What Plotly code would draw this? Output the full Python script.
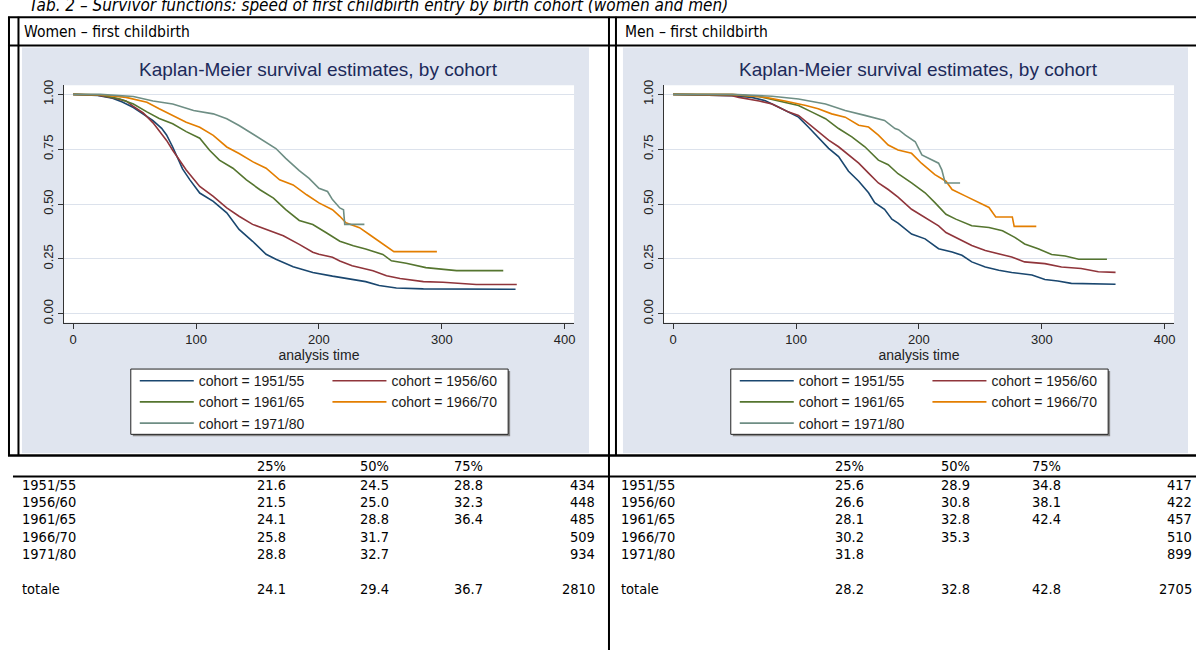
import plotly.graph_objects as go

W, H = 1198, 652

# ---------------- data ----------------
cohorts = ["1951/55", "1956/60", "1961/65", "1966/70", "1971/80"]
colors = ["#1A476F", "#90353B", "#55752F", "#E37E00", "#6E8E84"]

# Women – Kaplan-Meier survival (analysis time, survival)
w_t_5155 = [0, 20, 32, 40, 49, 57, 65, 72, 76, 81, 89, 95, 103, 114, 125, 135, 146, 157, 165, 179, 195, 211, 225, 238, 249, 263, 285, 360]
w_s_5155 = [1.0, 0.995, 0.982, 0.965, 0.94, 0.91, 0.88, 0.845, 0.815, 0.76, 0.66, 0.61, 0.55, 0.512, 0.46, 0.384, 0.33, 0.271, 0.248, 0.214, 0.188, 0.171, 0.157, 0.146, 0.128, 0.117, 0.113, 0.111]
w_t_5660 = [0, 20, 32, 43, 49, 57, 65, 76, 81, 92, 103, 114, 125, 135, 146, 157, 171, 184, 195, 200, 211, 217, 227, 233, 244, 255, 266, 285, 301, 328, 361]
w_s_5660 = [1.0, 0.996, 0.985, 0.97, 0.945, 0.915, 0.87, 0.79, 0.745, 0.655, 0.58, 0.535, 0.482, 0.444, 0.407, 0.384, 0.355, 0.316, 0.28, 0.271, 0.257, 0.24, 0.218, 0.21, 0.196, 0.173, 0.16, 0.146, 0.143, 0.133, 0.133]
w_t_6165 = [0, 22, 38, 49, 60, 70, 81, 92, 103, 111, 119, 130, 141, 152, 163, 173, 184, 195, 206, 217, 228, 238, 252, 259, 271, 287, 312, 350]
w_s_6165 = [1.0, 0.997, 0.979, 0.956, 0.92, 0.89, 0.866, 0.83, 0.80, 0.745, 0.70, 0.663, 0.61, 0.565, 0.527, 0.474, 0.425, 0.406, 0.369, 0.33, 0.31, 0.295, 0.27, 0.241, 0.23, 0.21, 0.196, 0.196]
w_t_6670 = [0, 22, 43, 60, 70, 81, 92, 103, 114, 125, 135, 146, 157, 168, 179, 190, 200, 211, 217, 222, 233, 241, 249, 255, 261, 296]
w_s_6670 = [1.0, 0.998, 0.986, 0.964, 0.934, 0.904, 0.873, 0.85, 0.813, 0.76, 0.73, 0.693, 0.663, 0.61, 0.587, 0.542, 0.505, 0.474, 0.444, 0.414, 0.392, 0.361, 0.331, 0.309, 0.283, 0.283]
w_t_7180 = [0, 22, 49, 65, 81, 98, 114, 125, 135, 146, 157, 165, 173, 184, 192, 200, 207, 211, 217, 220, 221, 237]
w_s_7180 = [1.0, 1.0, 0.99, 0.97, 0.956, 0.926, 0.911, 0.889, 0.858, 0.82, 0.783, 0.753, 0.708, 0.652, 0.617, 0.572, 0.557, 0.52, 0.482, 0.474, 0.407, 0.407]

# Men – Kaplan-Meier survival
m_t_5155 = [0, 48, 64, 75, 86, 94, 102, 110, 118, 126.5, 134.6, 142.7, 151, 159, 164, 172, 178, 183, 194, 205, 216, 227, 235, 243, 254, 265, 275.5, 292, 302.5, 313, 324, 346, 360]
m_s_5155 = [1.0, 0.994, 0.986, 0.971, 0.941, 0.919, 0.896, 0.851, 0.806, 0.754, 0.716, 0.649, 0.604, 0.551, 0.506, 0.476, 0.431, 0.413, 0.363, 0.341, 0.296, 0.281, 0.266, 0.236, 0.213, 0.198, 0.188, 0.176, 0.156, 0.149, 0.138, 0.134, 0.134]
m_t_5660 = [0, 48, 53.5, 70, 80.5, 94, 102, 110, 118, 126.5, 134.6, 142.7, 151, 159, 167, 175, 183, 194, 205, 216, 222, 233, 243, 254, 265, 275.5, 286, 302.5, 316, 332, 346, 360]
m_s_5660 = [1.0, 0.994, 0.986, 0.97, 0.956, 0.919, 0.904, 0.867, 0.829, 0.791, 0.761, 0.724, 0.686, 0.641, 0.596, 0.566, 0.531, 0.476, 0.438, 0.40, 0.37, 0.341, 0.311, 0.288, 0.273, 0.258, 0.236, 0.228, 0.213, 0.206, 0.191, 0.188]
m_t_6165 = [0, 48, 70, 86, 102, 113, 124, 134.6, 145.4, 156, 167, 175, 183, 194, 205, 213, 222, 230, 243, 257, 268, 278, 286, 297, 308, 319, 330, 353]
m_s_6165 = [1.0, 0.998, 0.99, 0.97, 0.949, 0.919, 0.889, 0.844, 0.806, 0.761, 0.70, 0.679, 0.638, 0.596, 0.551, 0.506, 0.453, 0.431, 0.401, 0.393, 0.378, 0.348, 0.318, 0.296, 0.27, 0.263, 0.248, 0.248]
m_t_6670 = [0, 48, 75, 91, 108, 118, 129, 140, 151, 159, 167, 175, 183, 194, 202, 213, 222, 227, 238, 249, 257, 262.5, 276, 277.5, 295.5]
m_s_6670 = [1.0, 1.0, 0.986, 0.97, 0.949, 0.934, 0.911, 0.896, 0.859, 0.851, 0.814, 0.769, 0.746, 0.731, 0.686, 0.634, 0.604, 0.566, 0.536, 0.506, 0.484, 0.441, 0.441, 0.398, 0.398]
m_t_7180 = [0, 48, 80.5, 102, 124, 140, 156, 172, 180.5, 183.4, 189, 197, 202.4, 210.5, 216, 218.6, 221.4, 233.5]
m_s_7180 = [1.0, 1.0, 0.991, 0.979, 0.956, 0.926, 0.904, 0.881, 0.844, 0.839, 0.814, 0.784, 0.724, 0.70, 0.686, 0.656, 0.596, 0.596]

x_ticks = [0, 100, 200, 300, 400]
y_ticks = [0, 0.25, 0.5, 0.75, 1.0]

# Table values (age in years at which 25/50/75% had first child; N)
tab_cols = ["25%", "50%", "75%"]
w_p25 = ["21.6", "21.5", "24.1", "25.8", "28.8"]
w_p50 = ["24.5", "25.0", "28.8", "31.7", "32.7"]
w_p75 = ["28.8", "32.3", "36.4", "", ""]
w_n = ["434", "448", "485", "509", "934"]
w_tot = ["24.1", "29.4", "36.7", "2810"]
m_p25 = ["25.6", "26.6", "28.1", "30.2", "31.8"]
m_p50 = ["28.9", "30.8", "32.8", "35.3", ""]
m_p75 = ["34.8", "38.1", "42.4", "", ""]
m_n = ["417", "422", "457", "510", "899"]
m_tot = ["28.2", "32.8", "42.8", "2705"]

caption = "Tab. 2 \u2013 Survivor functions: speed of first childbirth entry by birth cohort (women and men)"
panel_heads = ["Women \u2013 first childbirth", "Men \u2013 first childbirth"]
km_title = "Kaplan-Meier survival estimates, by cohort"

# ---------------- helpers ----------------
def PX(x):
    return x / W


def PY(y):
    return 1 - y / H


SANS = "Liberation Sans, Arial, Helvetica, sans-serif"
NARROW = "DejaVu Sans Condensed, Liberation Sans Narrow, sans-serif"
PANEL_BG = "#E0E5EF"
GRID = "#DCE2EC"
AXC = "#333333"

fig = go.Figure()

women = [(w_t_5155, w_s_5155), (w_t_5660, w_s_5660), (w_t_6165, w_s_6165),
         (w_t_6670, w_s_6670), (w_t_7180, w_s_7180)]
men = [(m_t_5155, m_s_5155), (m_t_5660, m_s_5660), (m_t_6165, m_s_6165),
       (m_t_6670, m_s_6670), (m_t_7180, m_s_7180)]

for panel, (curves, xa, ya, legs) in enumerate([
        (women, "x", "y", ("legend", "legend2")),
        (men, "x2", "y2", ("legend3", "legend4"))]):
    for i, (t, s) in enumerate(curves):
        fig.add_trace(go.Scatter(
            x=t, y=s, mode="lines", xaxis=xa, yaxis=ya,
            name="cohort = " + cohorts[i],
            line=dict(color=colors[i], width=1.6),
            legend=legs[i % 2],
            hoverinfo="skip",
        ))

# plot geometry (px)
PL_L, PL_R = 64, 575
OFF = 601
PL_T, PL_B = 81, 321
xr = [-7.55, 407.6]
yr = [-0.0406, 1.042]

axis_common = dict(showline=True, linecolor=AXC, linewidth=1, ticks="outside",
                   ticklen=5, tickcolor=AXC, tickwidth=1, zeroline=False,
                   tickfont=dict(family=SANS, size=13, color="#222222"))

for k, off in [("", 0), ("2", OFF)]:
    fig.update_layout(**{
        "xaxis" + k: dict(domain=[PX(PL_L + off), PX(PL_R + off)], range=xr,
                          anchor="y" + k, tickvals=x_ticks, showgrid=False,
                          title=dict(text="analysis time", standoff=0,
                                     font=dict(family=SANS, size=14, color="#222222")),
                          **axis_common),
        "yaxis" + k: dict(domain=[PY(PL_B), PY(PL_T)], range=yr, anchor="x" + k,
                          tickvals=y_ticks, tickformat=".2f", tickangle=-90,
                          showgrid=True, gridcolor=GRID, gridwidth=1,
                          **axis_common),
    })

shapes = []
# panel backgrounds
for x0, x1 in [(22, 590), (624, 1190)]:
    shapes.append(dict(type="rect", xref="paper", yref="paper", x0=PX(x0), x1=PX(x1),
                       y0=PY(453), y1=PY(43), fillcolor=PANEL_BG, line=dict(width=0),
                       layer="below"))
# white plot regions
for k in ["", "2"]:
    shapes.append(dict(type="rect", xref="x" + k + " domain", yref="y" + k + " domain",
                       x0=0, x1=1, y0=0, y1=1, fillcolor="white", line=dict(width=0),
                       layer="below"))
# legend boxes
for off in [0, OFF]:
    shapes.append(dict(type="rect", xref="paper", yref="paper", x0=PX(133 + off), x1=PX(511 + off),
                       y0=PY(436), y1=PY(370), fillcolor="#8a8a8a", line=dict(width=0),
                       layer="below"))
    shapes.append(dict(type="rect", xref="paper", yref="paper", x0=PX(131 + off), x1=PX(509 + off),
                       y0=PY(434), y1=PY(368), fillcolor="white",
                       line=dict(color="#222222", width=1), layer="below"))


def hline(y, x0, x1, w=2):
    shapes.append(dict(type="line", xref="paper", yref="paper", x0=PX(x0), x1=PX(x1),
                       y0=PY(y), y1=PY(y), line=dict(color="black", width=w), layer="above"))


def vline(x, y0, y1, w=2):
    shapes.append(dict(type="line", xref="paper", yref="paper", x0=PX(x), x1=PX(x),
                       y0=PY(y0), y1=PY(y1), line=dict(color="black", width=w), layer="above"))


hline(12.5, 8, W)
hline(41, 8, W)
hline(455.5, 8, W, 2.5)
hline(476.5, 13, W, 2)
vline(9, 12, 456)
vline(18.5, 12, 456)
vline(610, 12, H)
vline(617, 12, 456)

fig.update_layout(shapes=shapes)

# ---------------- annotations ----------------
ann = []


def text(x, y, s, size=14.5, family=NARROW, xanchor="left", color="black", italic=False):
    ann.append(dict(x=PX(x), y=PY(y), xref="paper", yref="paper", text=s, showarrow=False,
                    xanchor=xanchor, yanchor="middle",
                    font=dict(family=family, size=size, color=color,
                              style="italic" if italic else "normal")))


text(27, -0.5, caption, size=17, italic=True)
text(22, 27, panel_heads[0], size=15.5)
text(624, 27, panel_heads[1], size=15.5)
for off in [0, OFF]:
    text((PL_L + PL_R) / 2 + off, 65.5, km_title, size=19, family=SANS,
         xanchor="center", color="#1C2A5A")

# tables
row_y = [485, 502.5, 520, 537.5, 555]
tot_y = 590
head_y = 466
for (lx, cx, nx, p25, p50, p75, nn, tot) in [
        (20, [255, 359, 453], 598, w_p25, w_p50, w_p75, w_n, w_tot),
        (620, [834, 941, 1032], 1196, m_p25, m_p50, m_p75, m_n, m_tot)]:
    for j, c in enumerate(tab_cols):
        text(cx[j], head_y, c)
    for i in range(len(cohorts)):
        text(lx, row_y[i], cohorts[i])
        for j, col in enumerate([p25, p50, p75]):
            if col[i]:
                text(cx[j], row_y[i], col[i])
        text(nx, row_y[i], nn[i], xanchor="right")
    text(lx, tot_y, "totale")
    for j in range(3):
        text(cx[j], tot_y, tot[j])
    text(nx, tot_y, tot[3], xanchor="right")

fig.update_layout(annotations=ann)

# legends (two columns per panel)
leg_common = dict(bgcolor="rgba(0,0,0,0)", borderwidth=0, orientation="v",
                  xanchor="left", yanchor="top", tracegroupgap=0, itemwidth=54,
                  font=dict(family=SANS, size=14, color="#1a1a1a"))
LEG_Y = 364
fig.update_layout(
    legend=dict(x=PX(135), y=PY(LEG_Y), **leg_common),
    legend2=dict(x=PX(328), y=PY(LEG_Y), **leg_common),
    legend3=dict(x=PX(135 + OFF), y=PY(LEG_Y), **leg_common),
    legend4=dict(x=PX(328 + OFF), y=PY(LEG_Y), **leg_common),
)

fig.update_layout(width=W, height=H, autosize=False,
                  margin=dict(l=0, r=0, t=0, b=0, pad=0),
                  paper_bgcolor="white", plot_bgcolor="white",
                  showlegend=True)

fig.write_html("out.html", config={"displayModeBar": False},
               post_script="document.body.style.margin='0px';")
